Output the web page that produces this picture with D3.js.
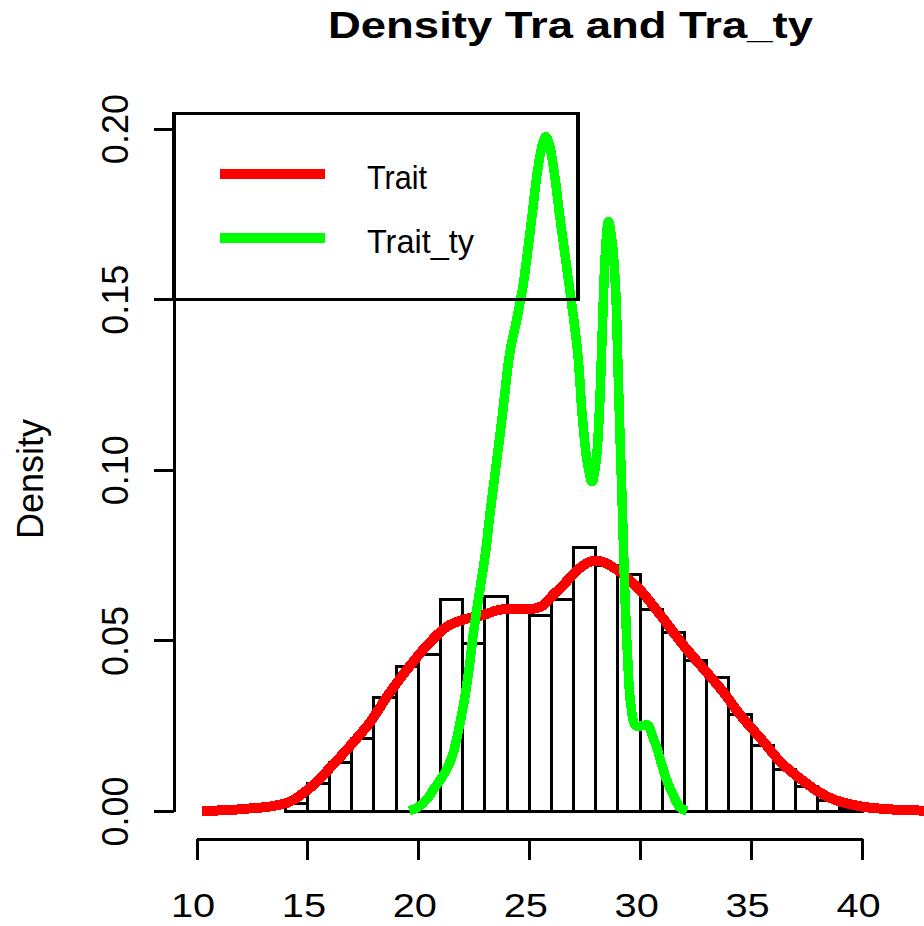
<!DOCTYPE html>
<html>
<head>
<meta charset="utf-8">
<script src="https://cdn.jsdelivr.net/npm/d3@7"></script>
<style>
  html, body { margin: 0; padding: 0; background: #fff; }
  svg { display: block; font-family: "Liberation Sans", Arial, Helvetica, sans-serif; }
</style>
</head>
<body>
<svg id="chart" width="924" height="926"></svg>
<script>
// ---- data ----
const titleText = "Density Tra and Tra_ty";
const yLabelText = "Density";
const legendLabels = ["Trait", "Trait_ty"];
const seriesColors = ["#ff0000", "#00ff00"];

const binStarts = [14,15,16,17,18,19,20,21,22,23,24,25,26,27,28,29,30,31,32,33,34,35,36,37,38,39];
const binDensity = [0.0022,0.0082,0.0141,0.0212,0.0333,0.0423,0.046,0.062,0.049,0.063,0.059,0.0572,0.062,0.0773,0.072,0.0694,0.0592,0.0524,0.0441,0.0392,0.0283,0.0192,0.0122,0.0072,0.0032,0.0008];
const binWidth = 1;

const traitX = [10.25,11.5,12.5,13.3,14.2,15.1,16.0,16.9,17.8,18.7,19.6,20.5,21.3,22.05,22.95,23.6,24.3,25.2,25.6,26.1,26.5,26.9,27.4,27.8,28.1,28.4,29.14,30.05,30.95,31.86,32.76,33.67,34.57,35.48,36.38,37.29,38.0,38.8,40.0,41.0,41.8,43.5];
const traitY = [0.0,0.0003,0.0008,0.0013,0.0027,0.0067,0.0125,0.0189,0.0258,0.0346,0.0424,0.0493,0.0541,0.0561,0.0575,0.0589,0.0593,0.0593,0.0602,0.0635,0.066,0.0688,0.0718,0.0732,0.0733,0.0728,0.0698,0.0644,0.0571,0.0493,0.0424,0.0355,0.0277,0.0209,0.014,0.0091,0.0058,0.0032,0.0013,0.0006,0.0003,0.0];

const tyX = [19.6,20.0,20.4,20.7,21.0,21.3,21.55,21.75,22.05,22.28,22.5,22.8,23.03,23.2,23.5,23.76,24.13,24.45,24.72,25.11,25.37,25.6,25.75,25.9,26.12,26.39,26.8,27.18,27.4,27.6,27.83,28.02,28.16,28.31,28.42,28.57,28.75,28.9,29.0,29.1,29.2,29.3,29.42,29.58,29.8,30.1,30.35,30.55,30.75,31.0,31.2,31.5,31.8,32.1];
const tyY = [0.0,0.0012,0.0035,0.0065,0.0092,0.0125,0.0165,0.0218,0.0316,0.0414,0.053,0.0659,0.0757,0.0855,0.101,0.1145,0.1345,0.1445,0.154,0.1736,0.1875,0.1955,0.1976,0.1955,0.1875,0.1736,0.154,0.1345,0.115,0.103,0.0965,0.103,0.117,0.144,0.162,0.1727,0.166,0.152,0.13,0.108,0.088,0.066,0.047,0.031,0.025,0.025,0.0252,0.022,0.0185,0.013,0.009,0.0045,0.001,0.0];

const xTicks = [10,15,20,25,30,35,40];
const yTicks = [0,0.05,0.10,0.15,0.20];
const yTickLabels = ["0.00","0.05","0.10","0.15","0.20"];

// ---- drawing ----
const svg = d3.select("#chart");
const x = d3.scaleLinear().domain([10, 40]).range([196.5, 862]);
const y = d3.scaleLinear().domain([0, 0.2]).range([811, 128.6]);

// histogram bars (unfilled)
svg.append("g")
  .selectAll("rect")
  .data(binStarts.map((s, i) => ({ s, d: binDensity[i] })))
  .join("rect")
  .attr("x", d => x(d.s))
  .attr("y", d => y(d.d))
  .attr("width", d => x(d.s + binWidth) - x(d.s))
  .attr("height", d => y(0) - y(d.d))
  .attr("fill", "none")
  .attr("stroke", "#000")
  .attr("stroke-width", 3)
  .attr("shape-rendering", "crispEdges");

const line = d3.line()
  .x(d => x(d[0]))
  .y(d => y(d[1]))
  .curve(d3.curveCatmullRom.alpha(0.5));

const traitData = traitX.map((v, i) => [v, traitY[i]]);
const tyData = tyX.map((v, i) => [v, tyY[i]]);

svg.append("path")
  .datum(traitData)
  .attr("d", line)
  .attr("fill", "none")
  .attr("stroke", seriesColors[0])
  .attr("stroke-width", 10)
  .attr("stroke-linejoin", "round")
  .attr("shape-rendering", "crispEdges");

svg.append("path")
  .datum(tyData)
  .attr("d", line)
  .attr("fill", "none")
  .attr("stroke", seriesColors[1])
  .attr("stroke-width", 9.5)
  .attr("stroke-linejoin", "round")
  .attr("shape-rendering", "crispEdges");

// x axis
const xAxis = d3.axisBottom(x)
  .tickValues(xTicks)
  .tickFormat(d3.format("d"))
  .tickSize(21)
  .tickSizeOuter(0)
  .tickPadding(33);

const gx = svg.append("g")
  .attr("transform", "translate(0,839)")
  .call(xAxis);
gx.select(".domain").attr("stroke", "#000").attr("stroke-width", 3).attr("shape-rendering", "crispEdges");
gx.selectAll(".tick line").attr("stroke", "#000").attr("stroke-width", 3).attr("shape-rendering", "crispEdges");
gx.selectAll(".tick text")
  .attr("font-size", 34)
  .attr("fill", "#000")
  .attr("font-family", "Liberation Sans, Arial, sans-serif")
  .attr("transform", "translate(-4,0) scale(1.17,1)");

// y axis
const yAxis = d3.axisLeft(y)
  .tickValues(yTicks)
  .tickFormat((d, i) => yTickLabels[i])
  .tickSize(20)
  .tickSizeOuter(0);

const gy = svg.append("g")
  .attr("transform", "translate(173.5,0)")
  .call(yAxis);
gy.select(".domain").attr("stroke", "#000").attr("stroke-width", 3).attr("shape-rendering", "crispEdges");
gy.selectAll(".tick line").attr("stroke", "#000").attr("stroke-width", 3).attr("shape-rendering", "crispEdges");
gy.selectAll(".tick text")
  .attr("font-size", 36)
  .attr("fill", "#000")
  .attr("font-family", "Liberation Sans, Arial, sans-serif")
  .attr("x", 0).attr("y", 0).attr("dy", 0)
  .attr("text-anchor", "middle")
  .attr("transform", "translate(-45.5,0) rotate(-90)");

// y label
svg.append("text")
  .attr("transform", "translate(43,479) rotate(-90)")
  .attr("text-anchor", "middle")
  .attr("font-size", 36)
  .attr("fill", "#000")
  .text(yLabelText);

// title
svg.append("text")
  .attr("x", 328)
  .attr("y", 38)
  .attr("font-size", 37)
  .attr("font-weight", "bold")
  .attr("fill", "#000")
  .attr("textLength", 485)
  .attr("lengthAdjust", "spacingAndGlyphs")
  .text(titleText);

// legend
const legend = svg.append("g");
legend.append("rect")
  .attr("x", 174).attr("y", 113.5)
  .attr("width", 404).attr("height", 186)
  .attr("fill", "none")
  .attr("stroke", "#000")
  .attr("stroke-width", 3.5)
  .attr("shape-rendering", "crispEdges");

const legendRowsY = [174, 238];
const legendTextLen = [60, 107];
legendLabels.forEach((lab, i) => {
  legend.append("line")
    .attr("x1", 220).attr("x2", 325)
    .attr("y1", legendRowsY[i]).attr("y2", legendRowsY[i])
    .attr("stroke", seriesColors[i])
    .attr("stroke-width", 10)
    .attr("shape-rendering", "crispEdges");
  legend.append("text")
    .attr("x", 367)
    .attr("y", legendRowsY[i] + 15)
    .attr("font-size", 33)
    .attr("fill", "#000")
    .attr("textLength", legendTextLen[i])
    .attr("lengthAdjust", "spacingAndGlyphs")
    .text(lab);
});
</script>
</body>
</html>
